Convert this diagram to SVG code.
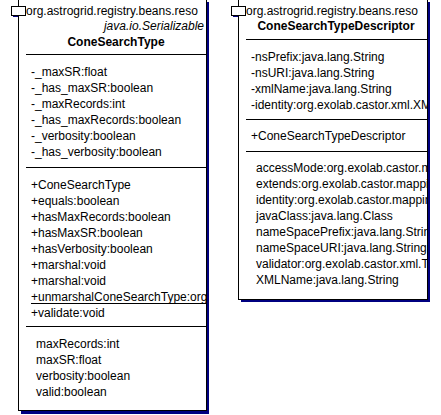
<svg xmlns="http://www.w3.org/2000/svg" width="441" height="415" viewBox="0 0 441 415">
<style>
text{font-family:"Liberation Sans",Arial,sans-serif;font-size:12px;fill:#000}
.b{font-weight:bold}
.i{font-style:italic}
.sh{fill:#000080}
.box{fill:#fff;stroke:#000;stroke-width:1}
.ln{stroke:#000;stroke-width:1}
</style>
<defs>
<clipPath id="c1"><rect x="19" y="0" width="187" height="411"/></clipPath>
<clipPath id="c2"><rect x="239" y="0" width="188" height="299"/></clipPath>
</defs>
<g id="ConeSearchType">
<rect class="sh" x="13" y="8" width="14" height="9"/>
<rect class="sh" x="21" y="2" width="188" height="412"/>
<rect class="box" x="18.5" y="-1" width="188" height="411.5" shape-rendering="crispEdges"/>
<rect class="box" x="11.5" y="6.5" width="14" height="9" shape-rendering="crispEdges"/>
<g clip-path="url(#c1)">
<text x="26" y="15">org.astrogrid.registry.beans.reso</text>
<text class="i" x="204" y="30" text-anchor="end">java.io.Serializable</text>
<text class="b" x="116" y="46" text-anchor="middle">ConeSearchType</text>
<line class="ln" x1="26" y1="54.5" x2="206" y2="54.5"/>
<text x="31" y="76">-_maxSR:float</text>
<text x="31" y="92">-_has_maxSR:boolean</text>
<text x="31" y="108">-_maxRecords:int</text>
<text x="31" y="124">-_has_maxRecords:boolean</text>
<text x="31" y="140">-_verbosity:boolean</text>
<text x="31" y="156">-_has_verbosity:boolean</text>
<line class="ln" x1="26" y1="167.5" x2="206" y2="167.5"/>
<text x="31" y="189">+ConeSearchType</text>
<text x="31" y="205">+equals:boolean</text>
<text x="31" y="221">+hasMaxRecords:boolean</text>
<text x="31" y="237">+hasMaxSR:boolean</text>
<text x="31" y="253">+hasVerbosity:boolean</text>
<text x="31" y="269">+marshal:void</text>
<text x="31" y="285">+marshal:void</text>
<text x="31" y="301">+unmarshalConeSearchType:org.astrogrid.registry.beans.resource.dataservice.ConeSearchType</text>
<line class="ln" x1="31" y1="303.5" x2="206" y2="303.5"/>
<text x="31" y="317">+validate:void</text>
<line class="ln" x1="26" y1="326.5" x2="206" y2="326.5"/>
<text x="36" y="348">maxRecords:int</text>
<text x="36" y="364">maxSR:float</text>
<text x="36" y="380">verbosity:boolean</text>
<text x="36" y="396">valid:boolean</text>
</g>
</g>
<g id="ConeSearchTypeDescriptor">
<rect class="sh" x="233" y="8" width="14" height="9"/>
<rect class="sh" x="241" y="2" width="189" height="300"/>
<rect class="box" x="238.5" y="-1" width="188.5" height="300" shape-rendering="crispEdges"/>
<rect class="box" x="231.5" y="6.5" width="14" height="9" shape-rendering="crispEdges"/>
<g clip-path="url(#c2)">
<text x="246" y="15">org.astrogrid.registry.beans.reso</text>
<text class="b" x="336" y="30" text-anchor="middle">ConeSearchTypeDescriptor</text>
<line class="ln" x1="246" y1="39.5" x2="427" y2="39.5"/>
<text x="251" y="61">-nsPrefix:java.lang.String</text>
<text x="251" y="77">-nsURI:java.lang.String</text>
<text x="251" y="93">-xmlName:java.lang.String</text>
<text x="251" y="109">-identity:org.exolab.castor.xml.XMLFieldDescriptor</text>
<line class="ln" x1="246" y1="119.5" x2="427" y2="119.5"/>
<text x="251" y="140">+ConeSearchTypeDescriptor</text>
<line class="ln" x1="246" y1="151.5" x2="427" y2="151.5"/>
<text x="256" y="172">accessMode:org.exolab.castor.mapping.AccessMode</text>
<text x="256" y="188">extends:org.exolab.castor.mapping.ClassDescriptor</text>
<text x="256" y="204">identity:org.exolab.castor.mapping.FieldDescriptor</text>
<text x="256" y="220">javaClass:java.lang.Class</text>
<text x="256" y="236">nameSpacePrefix:java.lang.String</text>
<text x="256" y="252">nameSpaceURI:java.lang.String</text>
<text x="256" y="268">validator:org.exolab.castor.xml.TypeValidator</text>
<text x="256" y="284">XMLName:java.lang.String</text>
</g>
</g>
<g id="connectors"></g>
</svg>
